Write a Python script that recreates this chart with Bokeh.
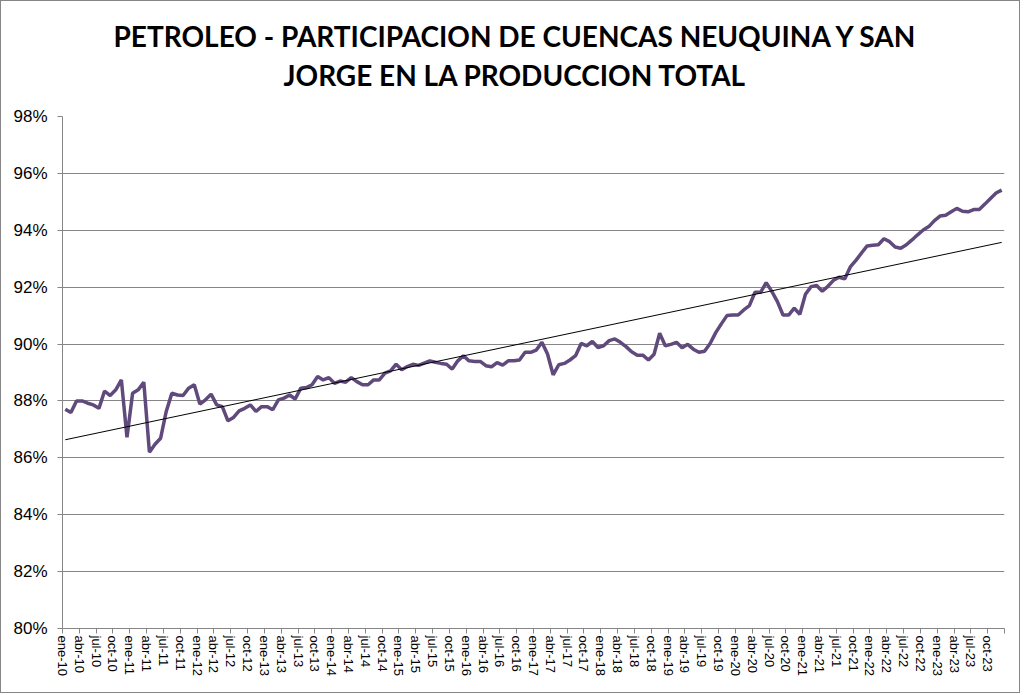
import numpy as np
from bokeh.plotting import figure
from bokeh.models import FixedTicker, PrintfTickFormatter, Range1d, Title, CustomJSTickFormatter
from bokeh.embed import file_html
from bokeh.resources import INLINE

months = ["ene", "feb", "mar", "abr", "may", "jun", "jul", "ago", "sep", "oct", "nov", "dic"]
years = list(range(10, 24))
categories = [f"{m}-{y:02d}" for y in years for m in months]

share = [
    87.71, 87.59, 88.00, 88.00, 87.92, 87.86, 87.74, 88.35, 88.19, 88.39,
    88.74, 86.72, 88.27, 88.39, 88.66, 86.20, 86.48, 86.69, 87.63, 88.27,
    88.21, 88.19, 88.45, 88.57, 87.89, 88.04, 88.24, 87.86, 87.80, 87.30,
    87.42, 87.65, 87.74, 87.86, 87.63, 87.80, 87.80, 87.69, 88.04, 88.10,
    88.21, 88.07, 88.45, 88.47, 88.57, 88.86, 88.74, 88.82, 88.62, 88.70,
    88.66, 88.82, 88.68, 88.57, 88.57, 88.74, 88.74, 88.98, 89.06, 89.29,
    89.10, 89.21, 89.29, 89.25, 89.33, 89.41, 89.36, 89.32, 89.29, 89.12,
    89.41, 89.59, 89.41, 89.39, 89.39, 89.24, 89.20, 89.35, 89.26, 89.41,
    89.41, 89.44, 89.71, 89.71, 89.79, 90.06, 89.65, 88.92, 89.27, 89.32,
    89.44, 89.59, 90.02, 89.94, 90.09, 89.88, 89.94, 90.12, 90.18, 90.06,
    89.91, 89.73, 89.61, 89.61, 89.44, 89.64, 90.38, 89.94, 89.99, 90.06,
    89.87, 89.99, 89.82, 89.71, 89.75, 90.02, 90.40, 90.71, 91.00, 91.02,
    91.02, 91.20, 91.35, 91.82, 91.82, 92.16, 91.85, 91.49, 91.02, 91.02,
    91.26, 91.05, 91.75, 92.02, 92.06, 91.86, 92.03, 92.24, 92.35, 92.29,
    92.71, 92.94, 93.20, 93.45, 93.47, 93.49, 93.70, 93.60, 93.41, 93.37,
    93.49, 93.66, 93.84, 94.01, 94.13, 94.34, 94.50, 94.53, 94.65, 94.77,
    94.67, 94.65, 94.73, 94.73, 94.92, 95.12, 95.31, 95.41,
]

y_ticks = [80, 82, 84, 86, 88, 90, 92, 94, 96, 98]
title_lines = ["PETROLEO - PARTICIPACION DE CUENCAS NEUQUINA Y SAN",
               "JORGE EN LA PRODUCCION TOTAL"]

n = len(categories)
x = list(range(n))

p = figure(width=1020, height=693, output_backend="svg", toolbar_location=None,
           x_range=Range1d(-0.5, n - 0.5), y_range=Range1d(80, 98),
           min_border_left=61, min_border_right=17, min_border_top=115, min_border_bottom=66,
           background_fill_color="white", border_fill_color="white")
p.styles = {"border": "1px solid #868686", "box-sizing": "border-box"}

title_style = dict(text_font="Lato", text_font_size="28px", text_font_style="bold",
                   text_color="black", align="left")
p.title.text = title_lines[0]
p.title.align = "left"
p.title.offset = 51
p.title.text_font = "Lato"
p.title.text_font_size = "28px"
p.title.text_font_style = "bold"
p.title.text_color = "black"
p.title.standoff = -45
t2 = Title(text=title_lines[1], offset=221, standoff=50, **title_style)
p.add_layout(t2, "above")

p.outline_line_color = None
p.xgrid.visible = False
p.ygrid.grid_line_color = "#868686"
p.ygrid.grid_line_width = 1

p.xaxis.ticker = FixedTicker(ticks=[i - 0.5 for i in range(0, n + 1, 3)])
p.xaxis.formatter = CustomJSTickFormatter(args=dict(labels=categories), code="""
    const i = Math.round(tick + 0.5);
    return (i >= 0 && i < labels.length) ? labels[i] : "";
""")
p.xaxis.major_label_orientation = "vertical"
p.xaxis.major_label_text_font = "Liberation Sans"
p.xaxis.major_label_text_font_size = "13px"
p.xaxis.major_label_text_color = "black"
p.xaxis.axis_line_color = "#868686"
p.xaxis.major_tick_line_color = "#868686"
p.xaxis.major_tick_out = 5
p.xaxis.major_tick_in = 0
p.xaxis.minor_tick_line_color = None
p.xaxis.major_label_standoff = 2

p.yaxis.ticker = FixedTicker(ticks=y_ticks)
p.yaxis.formatter = PrintfTickFormatter(format="%d%%")
p.yaxis.major_label_text_font = "Liberation Sans"
p.yaxis.major_label_text_font_size = "17px"
p.yaxis.major_label_text_color = "black"
p.yaxis.axis_line_color = "#868686"
p.yaxis.major_tick_line_color = "#868686"
p.yaxis.major_tick_out = 5
p.yaxis.major_tick_in = 0
p.yaxis.minor_tick_line_color = None
p.yaxis.major_label_standoff = 10

p.line(x, share, line_color="#604A7B", line_width=3.5)
coef = np.polyfit(x, share, 1)
xt = [0, n - 1]
p.line(xt, list(np.polyval(coef, xt)), line_color="black", line_width=1)

open("out.html", "w").write(file_html(p, INLINE))
